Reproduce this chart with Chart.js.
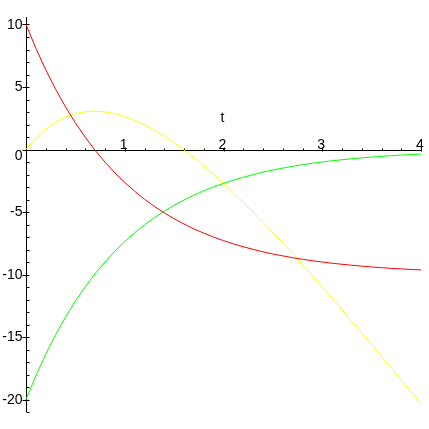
<!DOCTYPE html>
<html>
<head>
<meta charset="utf-8">
<script src="https://cdn.jsdelivr.net/npm/chart.js@4/dist/chart.umd.min.js"></script>
<style>
  html, body { margin: 0; padding: 0; background: #ffffff; }
  #wrap { width: 429px; height: 429px; }
</style>
</head>
<body>
<div id="wrap"><canvas id="c" width="429" height="429"></canvas></div>
<script>
// ---- data ----
const tValues = [0,0.1,0.2,0.3,0.4,0.5,0.6,0.7,0.8,0.9,1.0,1.1,1.2,1.3,1.4,1.5,1.6,1.7,1.8,1.9,2.0,
                 2.1,2.2,2.3,2.4,2.5,2.6,2.7,2.8,2.9,3.0,3.1,3.2,3.3,3.4,3.5,3.6,3.7,3.8,3.9,4.0];
const redValues = [10.00,8.10,6.37,4.82,3.41,2.13,0.98,-0.07,-1.01,-1.87,-2.64,-3.34,-3.98,-4.55,-5.07,-5.54,
                   -5.96,-6.35,-6.69,-7.01,-7.29,-7.55,-7.78,-7.99,-8.19,-8.36,-8.51,-8.66,-8.78,-8.90,-9.00,
                   -9.10,-9.18,-9.26,-9.33,-9.40,-9.45,-9.51,-9.55,-9.60,-9.63];
const yellowValues = [0.00,0.90,1.63,2.18,2.59,2.87,3.02,3.07,3.01,2.87,2.64,2.34,1.98,1.55,1.07,0.54,
                      -0.04,-0.65,-1.31,-1.99,-2.71,-3.45,-4.22,-5.01,-5.81,-6.64,-7.49,-8.34,-9.22,-10.10,-11.00,
                      -11.90,-12.82,-13.74,-14.67,-15.60,-16.55,-17.49,-18.45,-19.40,-20.37];
const greenValues = [-20.00,-18.10,-16.37,-14.82,-13.41,-12.13,-10.98,-9.93,-8.99,-8.13,-7.36,-6.66,-6.02,-5.45,
                     -4.93,-4.46,-4.04,-3.65,-3.31,-2.99,-2.71,-2.45,-2.22,-2.01,-1.81,-1.64,-1.49,-1.34,-1.22,
                     -1.10,-1.00,-0.90,-0.82,-0.74,-0.67,-0.60,-0.55,-0.49,-0.45,-0.40,-0.37];
const xTickLabels = ['1','2','3','4'];
const yTickLabels = ['-20','-15','-10','-5','0','5','10'];
const xAxisTitle = 't';
const xRange = [0, 4];
const yRange = [-21, 10.6];
const xMinorStep = 0.2;
const yMinorStep = 1;

function pts(ys) { return tValues.map((t, i) => ({ x: t, y: ys[i] })); }

const FONT = '14px "Liberation Sans", Arial, sans-serif';

const axesPlugin = {
  id: 'mapleAxes',
  beforeDatasetsDraw(chart) {
    const ctx = chart.ctx;
    const xs = chart.scales.x, ys = chart.scales.y;
    const x0 = Math.round(xs.getPixelForValue(0)) + 0.5;
    const y0 = Math.round(ys.getPixelForValue(0)) + 0.5;
    const xl = xs.getPixelForValue(xRange[0]), xr = xs.getPixelForValue(xRange[1]);
    const yt = ys.getPixelForValue(yRange[1]), yb = ys.getPixelForValue(yRange[0]);
    ctx.save();
    ctx.strokeStyle = '#000';
    ctx.lineWidth = 1;
    ctx.beginPath();
    // axis lines
    ctx.moveTo(xl, y0); ctx.lineTo(xr + 0.5, y0);
    ctx.moveTo(x0, yt); ctx.lineTo(x0, yb);
    // x minor ticks
    for (let v = xRange[0] + xMinorStep; v <= xRange[1] + 1e-9; v += xMinorStep) {
      const p = Math.round(xs.getPixelForValue(v)) + 0.5;
      ctx.moveTo(p, y0); ctx.lineTo(p, y0 - 2);
    }
    // x major ticks
    xTickLabels.forEach(l => {
      const p = Math.round(xs.getPixelForValue(Number(l))) + 0.5;
      ctx.moveTo(p, y0 - 3); ctx.lineTo(p, y0 + 1);
    });
    // y minor ticks
    for (let v = Math.ceil(yRange[0]); v <= yRange[1]; v += yMinorStep) {
      const p = Math.round(ys.getPixelForValue(v)) + 0.5;
      ctx.moveTo(x0, p); ctx.lineTo(x0 + 3, p);
    }
    // y major ticks
    yTickLabels.forEach(l => {
      const p = Math.round(ys.getPixelForValue(Number(l))) + 0.5;
      ctx.moveTo(x0 - 4, p); ctx.lineTo(x0, p);
    });
    ctx.stroke();

    // labels
    ctx.fillStyle = '#000';
    ctx.font = FONT;
    ctx.textAlign = 'center';
    ctx.textBaseline = 'alphabetic';
    xTickLabels.forEach(l => {
      ctx.fillText(l, xs.getPixelForValue(Number(l)) - 1, y0 - 1.5);
    });
    ctx.textAlign = 'right';
    ctx.textBaseline = 'middle';
    yTickLabels.forEach(l => {
      const v = Number(l);
      let p = ys.getPixelForValue(v) + 0.5;
      if (v === 0) p += 6;
      ctx.fillText(l, x0 - 4, p);
    });
    // axis title
    ctx.textAlign = 'center';
    ctx.textBaseline = 'middle';
    ctx.fillText(xAxisTitle, xs.getPixelForValue((xRange[0] + xRange[1]) / 2) - 1, y0 - 32);
    ctx.restore();
  }
};

new Chart(document.getElementById('c'), {
  type: 'line',
  data: {
    datasets: [
      { label: 'red', data: pts(redValues), borderColor: '#ff0000' },
      { label: 'green', data: pts(greenValues), borderColor: '#00ff00' },
      { label: 'yellow', data: pts(yellowValues), borderColor: '#ffff00' }
    ]
  },
  options: {
    responsive: false,
    animation: false,
    devicePixelRatio: 1,
    layout: { padding: { left: 26, right: 8, top: 17, bottom: 17 } },
    elements: {
      point: { radius: 0 },
      line: { borderWidth: 1, tension: 0, fill: false }
    },
    scales: {
      x: { type: 'linear', min: xRange[0], max: xRange[1], display: false },
      y: { type: 'linear', min: yRange[0], max: yRange[1], display: false }
    },
    plugins: { legend: { display: false }, tooltip: { enabled: false } }
  },
  plugins: [axesPlugin]
});
</script>
</body>
</html>
